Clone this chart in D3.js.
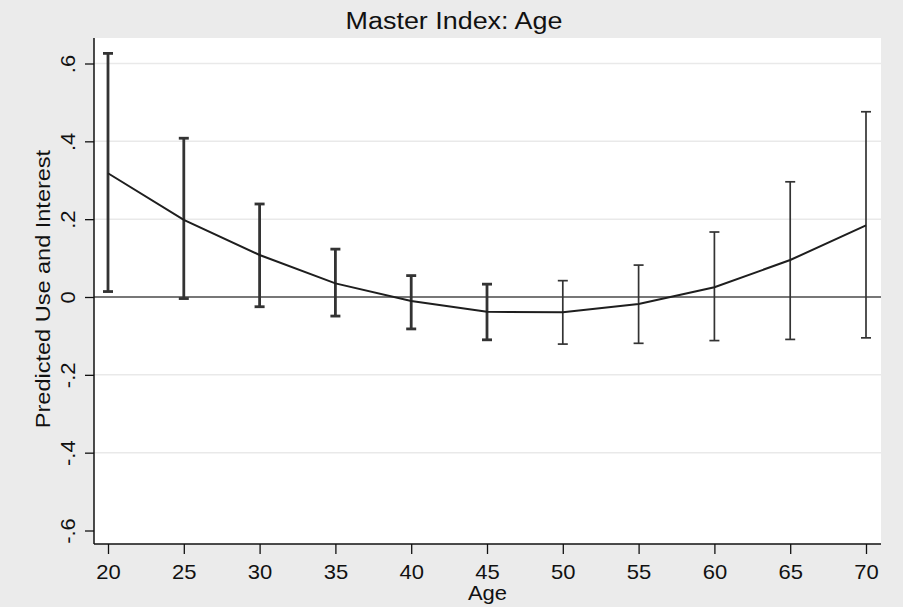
<!DOCTYPE html>
<html>
<head>
<meta charset="utf-8">
<script src="https://cdn.jsdelivr.net/npm/d3@7"></script>
<style>
  html, body { margin: 0; padding: 0; background: #ebebeb; }
  svg { display: block; }
  text { font-family: "Liberation Sans", Arial, Helvetica, sans-serif; fill: #111; }
</style>
</head>
<body>
<script>
// ---- data ----
const ages = [20, 25, 30, 35, 40, 45, 50, 55, 60, 65, 70];
const predicted = [0.318, 0.198, 0.108, 0.035, -0.010, -0.038, -0.039, -0.018, 0.025, 0.095, 0.184];
const upper = [0.626, 0.408, 0.239, 0.123, 0.055, 0.033, 0.042, 0.082, 0.167, 0.296, 0.476];
const lower = [0.014, -0.004, -0.025, -0.049, -0.082, -0.110, -0.121, -0.119, -0.112, -0.109, -0.105];
const xTicks = [20, 25, 30, 35, 40, 45, 50, 55, 60, 65, 70];
const yTicks = [-0.6, -0.4, -0.2, 0, 0.2, 0.4, 0.6];
const yTickLabels = ["-.6", "-.4", "-.2", "0", ".2", ".4", ".6"];
const titleText = "Master Index: Age";
const xTitle = "Age";
const yTitle = "Predicted Use and Interest";

// ---- layout ----
const W = 903, H = 607;
const plot = { left: 94, right: 881, top: 38, bottom: 544 };

const x = d3.scaleLinear().domain([20, 70]).range([108, 866]);
const y = d3.scaleLinear().domain([-0.6, 0.6]).range([530.5, 63.5]);

const svg = d3.select("body").append("svg").attr("width", W).attr("height", H);

svg.append("rect").attr("x", 0).attr("y", 0).attr("width", W).attr("height", H).attr("fill", "#ebebeb");
svg.append("rect")
  .attr("x", plot.left).attr("y", plot.top)
  .attr("width", plot.right - plot.left).attr("height", plot.bottom - plot.top)
  .attr("fill", "#ffffff");

// gridlines
svg.append("g").selectAll("line").data(yTicks.filter(d => d !== 0 && d !== -0.6)).join("line")
  .attr("x1", plot.left).attr("x2", plot.right)
  .attr("y1", d => y(d)).attr("y2", d => y(d))
  .attr("stroke", "#e9e9e9").attr("stroke-width", 1.5);

// zero reference line
svg.append("line")
  .attr("x1", plot.left).attr("x2", plot.right)
  .attr("y1", y(0)).attr("y2", y(0))
  .attr("stroke", "#4a4a4a").attr("stroke-width", 1.5);

// axes
const yAxis = d3.axisLeft(y).tickValues(yTicks).tickSize(9).tickPadding(0)
  .tickFormat((d, i) => yTickLabels[i]);
const gy = svg.append("g").attr("transform", `translate(${plot.left},0)`).call(yAxis);
gy.select(".domain").remove();
gy.selectAll(".tick line").attr("stroke", "#111").attr("stroke-width", 1.3);
gy.selectAll(".tick text").remove();
svg.append("line").attr("x1", plot.left).attr("x2", plot.left)
  .attr("y1", plot.top).attr("y2", plot.bottom).attr("stroke", "#111").attr("stroke-width", 1.5);

gy.selectAll(".tick").append("text")
  .attr("transform", "translate(-19,0) rotate(-90) scale(1.1,1)")
  .attr("text-anchor", "middle")
  .attr("x", 0).attr("y", 0)
  .attr("font-size", 20)
  .text((d, i) => yTickLabels[i]);

const xAxis = d3.axisBottom(x).tickValues(xTicks).tickSize(10).tickPadding(0).tickFormat(d3.format("d"));
const gx = svg.append("g").attr("transform", `translate(0,${plot.bottom})`).call(xAxis);
gx.select(".domain").remove();
gx.selectAll(".tick line").attr("stroke", "#111").attr("stroke-width", 1.3);
gx.selectAll(".tick text").remove();
gx.selectAll(".tick").append("text")
  .attr("transform", "translate(0,35) scale(1.1,1)")
  .attr("text-anchor", "middle")
  .attr("font-size", 20)
  .text(d => d);
svg.append("line").attr("x1", plot.left).attr("x2", plot.right)
  .attr("y1", plot.bottom).attr("y2", plot.bottom).attr("stroke", "#111").attr("stroke-width", 1.5);

// error bars
const thick = a => a <= 45;
const cap = 5;
const eb = svg.append("g").selectAll("g").data(ages).join("g")
  .attr("stroke", "#333")
  .attr("stroke-width", a => thick(a) ? 2.8 : 1.7);
eb.append("line")
  .attr("x1", a => x(a)).attr("x2", a => x(a))
  .attr("y1", (a, i) => y(upper[i])).attr("y2", (a, i) => y(lower[i]));
eb.append("line")
  .attr("x1", a => x(a) - cap).attr("x2", a => x(a) + cap)
  .attr("y1", (a, i) => y(upper[i])).attr("y2", (a, i) => y(upper[i]));
eb.append("line")
  .attr("x1", a => x(a) - cap).attr("x2", a => x(a) + cap)
  .attr("y1", (a, i) => y(lower[i])).attr("y2", (a, i) => y(lower[i]));

// predicted line
const line = d3.line().x((d, i) => x(ages[i])).y(d => y(d));
svg.append("path").datum(predicted)
  .attr("d", line)
  .attr("fill", "none").attr("stroke", "#1e1e1e").attr("stroke-width", 2);

// titles
svg.append("text")
  .attr("transform", "translate(454,29) scale(1.17,1)")
  .attr("text-anchor", "middle")
  .attr("font-size", 23)
  .text(titleText);

svg.append("text")
  .attr("transform", `translate(${(plot.left + plot.right) / 2},600) scale(1.1,1)`)
  .attr("text-anchor", "middle")
  .attr("font-size", 20)
  .text(xTitle);

svg.append("text")
  .attr("transform", `translate(50,${(plot.top + plot.bottom) / 2 - 2}) rotate(-90) scale(1.12,1)`)
  .attr("text-anchor", "middle")
  .attr("font-size", 21)
  .text(yTitle);
</script>
</body>
</html>
